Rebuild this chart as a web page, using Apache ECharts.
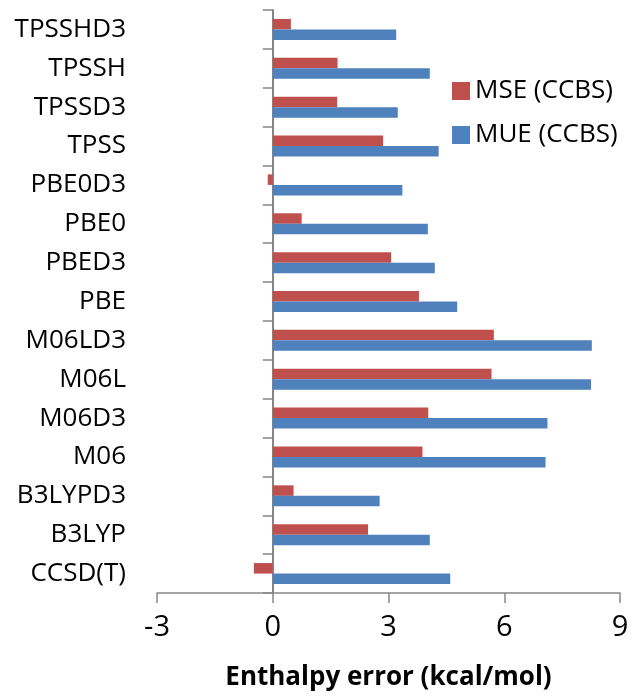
<!DOCTYPE html>
<html>
<head>
<meta charset="utf-8">
<script src="https://cdn.jsdelivr.net/npm/echarts@6/dist/echarts.min.js"></script>
<style>
html,body{margin:0;padding:0;background:#fff;}
#chart{width:633px;height:696px;}
</style>
</head>
<body>
<div id="chart"></div>
<script>
const categories = ['CCSD(T)','B3LYP','B3LYPD3','M06','M06D3','M06L','M06LD3','PBE','PBED3','PBE0','PBE0D3','TPSS','TPSSD3','TPSSH','TPSSHD3'];
const mseValues = [-0.49, 2.47, 0.54, 3.88, 4.03, 5.67, 5.73, 3.79, 3.07, 0.75, -0.13, 2.86, 1.67, 1.68, 0.47];
const mueValues = [4.60, 4.07, 2.77, 7.07, 7.12, 8.25, 8.27, 4.78, 4.20, 4.02, 3.36, 4.30, 3.24, 4.07, 3.20];
const xTicks = [-3, 0, 3, 6, 9];
const seriesNames = ['MSE (CCBS)', 'MUE (CCBS)'];

const FONT = '"Open Sans", sans-serif';
const axisGray = '#868686';
const chart = echarts.init(document.getElementById('chart'));
chart.setOption({
  animation: false,
  backgroundColor: '#ffffff',
  grid: { left: 157, right: 13, top: 10, bottom: 103, containLabel: false, outerBoundsMode: 'none' },
  legend: {
    data: seriesNames,
    orient: 'vertical',
    left: 447, top: 73,
    itemWidth: 18, itemHeight: 18, itemGap: 18,
    icon: 'rect',
    textStyle: { fontFamily: FONT, fontSize: 26, color: '#000' }
  },
  xAxis: {
    type: 'value',
    min: xTicks[0], max: xTicks[xTicks.length - 1], interval: 3,
    splitLine: { show: false },
    axisLine: { show: true, onZero: false, lineStyle: { color: axisGray, width: 1.5 } },
    axisTick: { show: true, length: 10, lineStyle: { color: axisGray, width: 1.5 } },
    axisLabel: { fontFamily: FONT, fontSize: 29, color: '#000', margin: 20 },
    name: 'Enthalpy error (kcal/mol)',
    nameLocation: 'middle',
    nameGap: 72,
    nameTextStyle: { fontFamily: FONT, fontSize: 26, fontWeight: 'bold', color: '#000' }
  },
  yAxis: {
    type: 'category',
    data: categories,
    axisLine: { show: true, onZero: true, lineStyle: { color: axisGray, width: 2 } },
    axisTick: { show: true, length: 10, lineStyle: { color: axisGray, width: 1.5 } },
    axisLabel: { fontFamily: FONT, fontSize: 26, color: '#000', margin: 31 }
  },
  series: [
    { name: seriesNames[0], type: 'bar', data: mseValues, barWidth: 10.5, barGap: '0%',
      itemStyle: { color: '#C0504D' } },
    { name: seriesNames[1], type: 'bar', data: mueValues, barWidth: 10.5, barGap: '0%',
      itemStyle: { color: '#4F81BD' } }
  ]
});
</script>
</body>
</html>
